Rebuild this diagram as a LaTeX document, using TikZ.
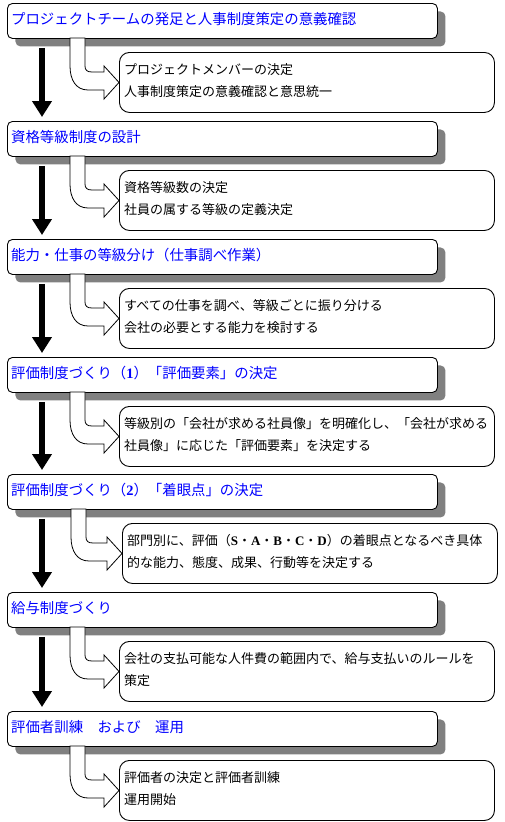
\documentclass[tikz,border=0pt]{standalone}
\usepackage{fontspec}
\setmainfont{Noto Sans CJK JP}
\newfontfamily\serifb{Liberation Serif}
\usetikzlibrary{calc,arrows.meta,shadows}
\definecolor{shadowgray}{RGB}{128,128,128}
\definecolor{titleblue}{RGB}{0,0,255}
\newcommand\bl[1]{{\serifb\bfseries #1}}
\tikzset{
  titlebox/.style={draw, line width=0.9pt, rounded corners=5pt, fill=white,
    minimum width=430pt, minimum height=35pt, anchor=north west, inner sep=0pt,
    drop shadow={shadow xshift=8pt, shadow yshift=-8pt, fill=shadowgray, opacity=1}},
  subbox/.style={draw, line width=0.9pt, rounded corners=10pt, fill=white,
    minimum width=375pt, minimum height=60pt, anchor=north west, inner sep=0pt},
  ttext/.style={anchor=base west, inner sep=0pt, text=titleblue,
    font=\fontsize{14.4pt}{16pt}\selectfont},
  stext/.style={anchor=base west, inner sep=0pt,
    font=\fontsize{13pt}{15pt}\selectfont},
  uarrow/.style={draw, fill=white, line width=0.8pt, line join=miter},
  bigarrow/.style={line width=6.5pt, -{Triangle[width=19pt,length=16pt]}}
}
% #1 id, #2 top, #3 sub box shift, #4 band shift, #5 title, #6 line 1, #7 line 2
\newcommand\stage[7]{%
  \node[titlebox] (t#1) at (7,#2) {};
  \node[subbox] (s#1) at ($(t#1.north west)+(112+#3,49)$) {};
  \begin{scope}[shift={(t#1.north west)}]
    \draw[uarrow] (63+#4,35) -- (63+#4,63)
      .. controls (63+#4,77) and (69+#4,87) .. (81+#4,87)
      -- (97+#3,87) -- (97+#3,96) -- (s#1.west) -- (97+#3,63) -- (97+#3,69)
      -- (85+#4,69) .. controls (80+#4,69) and (78+#4,67) .. (78+#4,63)
      -- (78+#4,35) -- cycle;
  \end{scope}
  \node[ttext] (tt#1) at ($(t#1.north west)+(4,21.5)$) {#5};
  \node[stext] (la#1) at ($(s#1.north west)+(5,22)$) {#6};
  \node[stext] (lb#1) at ($(s#1.north west)+(5,44)$) {#7};
}
\begin{document}
\begin{tikzpicture}[x=1pt,y=-1pt]
\useasboundingbox (0,0) rectangle (505,822);
\fill[white] (0,0) rectangle (505,822);
\stage{1}{3}{0}{0}{プロジェクトチームの発足と人事制度策定の意義確認}{プロジェクトメンバーの決定}{人事制度策定の意義確認と意思統一}
\stage{2}{121}{0}{0}{資格等級制度の設計}{資格等級数の決定}{社員の属する等級の定義決定}
\stage{3}{239}{0}{0}{能力・仕事の等級分け（仕事調べ作業）}{すべての仕事を調べ、等級ごとに振り分ける}{会社の必要とする能力を検討する}
\stage{4}{357}{0}{0}{評価制度づくり（\bl{1}）「評価要素」の決定}{等級別の「会社が求める社員像」を明確化し、「会社が求める}{社員像」に応じた「評価要素」を決定する}
\stage{5}{474}{3}{1}{評価制度づくり（\bl{2}）「着眼点」の決定}{部門別に、評価（\bl{S}・\bl{A}・\bl{B}・\bl{C}・\bl{D}）の着眼点となるべき具体}{的な能力、態度、成果、行動等を決定する}
\stage{6}{592}{0}{0}{給与制度づくり}{会社の支払可能な人件費の範囲内で、給与支払いのルールを}{策定}
\stage{7}{711}{0}{0}{評価者訓練　および　運用}{評価者の決定と評価者訓練}{運用開始}
\draw[bigarrow] ($(t1.south west)+(35,9)$) -- ($(t2.north west)+(35,-4)$);
\draw[bigarrow] ($(t2.south west)+(35,9)$) -- ($(t3.north west)+(35,-4)$);
\draw[bigarrow] ($(t3.south west)+(35,9)$) -- ($(t4.north west)+(35,-4)$);
\draw[bigarrow] ($(t4.south west)+(35,9)$) -- ($(t5.north west)+(35,-4)$);
\draw[bigarrow] ($(t5.south west)+(35,9)$) -- ($(t6.north west)+(35,-4)$);
\draw[bigarrow] ($(t6.south west)+(35,9)$) -- ($(t7.north west)+(35,-4)$);
\end{tikzpicture}
\end{document}
